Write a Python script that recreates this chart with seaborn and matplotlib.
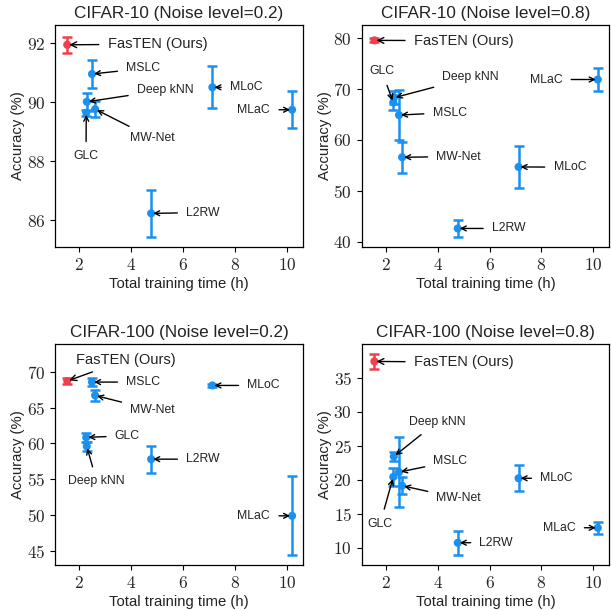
import matplotlib
matplotlib.use("Agg")
import matplotlib.pyplot as plt
import seaborn as sns
import pandas as pd
from matplotlib.ticker import FuncFormatter, MultipleLocator

sns.set_theme(style="ticks")
plt.rcParams['font.family'] = ['Liberation Sans', 'DejaVu Sans']
plt.rcParams['mathtext.fontset'] = 'cm'

methods = ["FasTEN (Ours)", "GLC", "Deep kNN", "MSLC", "MW-Net", "L2RW", "MLoC", "MLaC"]
times = [1.55, 2.28, 2.30, 2.50, 2.62, 4.77, 7.12, 10.18]

titles = ["CIFAR-10 (Noise level=0.2)", "CIFAR-10 (Noise level=0.8)",
          "CIFAR-100 (Noise level=0.2)", "CIFAR-100 (Noise level=0.8)"]

acc_c10_02 = [91.95, 89.65, 90.02, 90.96, 89.77, 86.24, 90.51, 89.75]
err_c10_02 = [0.28, 0.10, 0.31, 0.46, 0.26, 0.79, 0.71, 0.63]
acc_c10_08 = [79.6, 67.4, 68.3, 64.9, 56.6, 42.6, 54.7, 71.9]
err_c10_08 = [0.4, 1.5, 1.3, 4.9, 3.05, 1.7, 4.05, 2.2]
acc_c100_02 = [68.75, 60.85, 59.6, 68.6, 66.73, 57.8, 68.13, 49.86]
err_c100_02 = [0.4, 0.65, 0.65, 0.6, 0.8, 1.9, 0.25, 5.55]
acc_c100_08 = [37.4, 20.4, 23.4, 21.1, 19.1, 10.7, 20.2, 12.9]
err_c100_08 = [1.15, 1.3, 0.65, 5.2, 1.25, 1.8, 1.9, 0.9]

panels_acc = [acc_c10_02, acc_c10_08, acc_c100_02, acc_c100_08]
panels_err = [err_c10_02, err_c10_08, err_c100_02, err_c100_08]

# label (text centre) positions per panel, in data coordinates
label_pos = [
    {"FasTEN (Ours)": (5.01, 91.97), "MSLC": (4.47, 91.15), "Deep kNN": (5.31, 90.42),
     "MW-Net": (4.82, 88.79), "GLC": (2.27, 88.17), "L2RW": (6.76, 86.27),
     "MLoC": (8.42, 90.51), "MLaC": (8.71, 89.75)},
    {"FasTEN (Ours)": (5.0, 79.54), "GLC": (1.83, 73.6), "Deep kNN": (5.27, 72.3),
     "MSLC": (4.46, 65.4), "MW-Net": (4.81, 56.75), "MLoC": (9.1, 54.65),
     "L2RW": (6.74, 42.6), "MLaC": (8.18, 71.9)},
    {"FasTEN (Ours)": (3.81, 71.73), "MSLC": (4.47, 68.6), "MW-Net": (4.82, 64.7),
     "MLoC": (9.09, 68.13), "GLC": (3.86, 61.08), "Deep kNN": (2.68, 54.67),
     "L2RW": (6.76, 57.8), "MLaC": (8.71, 49.86)},
    {"FasTEN (Ours)": (5.0, 37.3), "Deep kNN": (3.97, 28.5), "MSLC": (4.49, 22.67),
     "MW-Net": (4.81, 17.26), "GLC": (1.77, 13.5), "MLoC": (8.59, 20.2),
     "L2RW": (6.26, 10.74), "MLaC": (8.69, 12.95)},
]
label_size = {"FasTEN (Ours)": 10.5}

ylims = [(85.1, 92.62), (38.94, 82.62), (42.99, 73.93), (7.45, 39.96)]
xlims = [(1.08, 10.6), (1.06, 10.62), (1.08, 10.6), (1.06, 10.62)]
ysteps = [2, 10, 5, 5]
positions = [
    [0.090, 0.595, 0.406, 0.364],
    [0.592, 0.595, 0.405, 0.364],
    [0.090, 0.074, 0.406, 0.362],
    [0.592, 0.074, 0.405, 0.362],
]

blue = "#1a90f0"
red = "#f0404e"

fig = plt.figure(figsize=(6.11, 6.10), dpi=100)
fmt = FuncFormatter(lambda v, p: f"${v:g}$")

for i in range(4):
    ax = fig.add_axes(positions[i])
    df = pd.DataFrame({"method": methods, "time": times,
                       "acc": panels_acc[i], "err": panels_err[i]})
    colors = [red if m == "FasTEN (Ours)" else blue for m in methods]
    order = list(range(1, len(methods))) + [0]
    for j in order:
        ax.errorbar(df["time"][j], df["acc"][j], yerr=df["err"][j], fmt='none',
                    ecolor=colors[j], elinewidth=1.8, capsize=3.5, capthick=1.8, zorder=2)
    sns.scatterplot(data=df, x="time", y="acc", hue="method",
                    palette={m: c for m, c in zip(methods, colors)},
                    s=34, edgecolor='none', legend=False, ax=ax, zorder=3)
    for j, m in enumerate(methods):
        tx, ty = label_pos[i][m]
        ax.annotate(m, xy=(times[j], panels_acc[i][j]), xytext=(tx, ty),
                    ha='center', va='center', fontsize=label_size.get(m, 8.8),
                    color='#222222',
                    arrowprops=dict(arrowstyle='->', color='black', lw=1.0,
                                    shrinkA=4, shrinkB=1.5), zorder=4)
    ax.set_xlim(*xlims[i])
    ax.set_ylim(*ylims[i])
    ax.xaxis.set_major_locator(MultipleLocator(2))
    ax.yaxis.set_major_locator(MultipleLocator(ysteps[i]))
    ax.xaxis.set_major_formatter(fmt)
    ax.yaxis.set_major_formatter(fmt)
    ax.tick_params(axis='both', labelsize=12.5, length=3.5, width=0.8, color='black')
    for s in ax.spines.values():
        s.set_color('black')
        s.set_linewidth(0.9)
    ax.set_xlabel("Total training time (h)", fontsize=10.7, color='#222222', labelpad=3)
    ax.set_ylabel("Accuracy (%)", fontsize=10.7, color='#222222', labelpad=1)
    ax.set_title(titles[i], fontsize=12.3, color='#222222', pad=5)

fig.savefig("out.png", dpi=100)
